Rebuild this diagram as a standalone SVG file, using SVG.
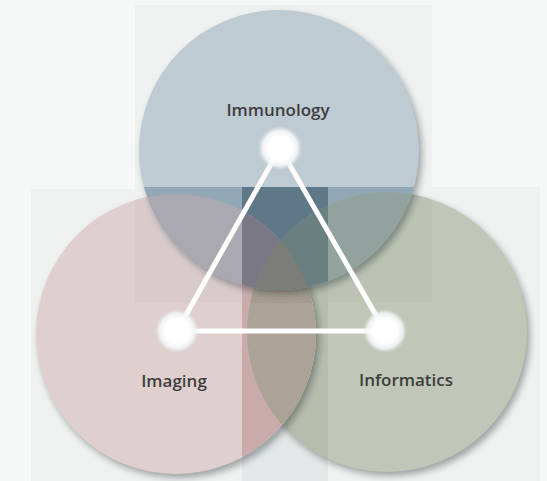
<svg xmlns="http://www.w3.org/2000/svg" width="547" height="481" viewBox="0 0 547 481">
  <defs>
    <style>
      .label { font-family: "Open Sans", "Liberation Sans", sans-serif; font-weight: 600; font-size: 17px; fill: #3e3e3e; text-anchor: middle; }
      .link { stroke: #ffffff; stroke-width: 5; fill: none; stroke-linecap: round; }
      .shadow { fill: #1e2428; fill-opacity: 0.38; filter: url(#soft); }
      .panel { fill: #eff1f0; }
      .dot { fill: url(#glow); }
    </style>
    <filter id="soft" x="-10%" y="-10%" width="120%" height="120%">
      <feGaussianBlur stdDeviation="3"/>
    </filter>
    <clipPath id="cI"><circle cx="279" cy="150" r="140"/></clipPath>
    <clipPath id="cA"><circle cx="176" cy="334" r="140"/></clipPath>
    <clipPath id="cF"><circle cx="387" cy="332" r="140"/></clipPath>
    <radialGradient id="glow">
      <stop offset="0" stop-color="#ffffff"/>
      <stop offset="0.55" stop-color="#ffffff"/>
      <stop offset="0.8" stop-color="#f3f5f6" stop-opacity="0.9"/>
      <stop offset="1" stop-color="#dfe5e8" stop-opacity="0"/>
    </radialGradient>
  </defs>

  <!-- backdrop and square panels -->
  <rect width="547" height="481" fill="#f6f8f7"/>
  <g id="panels">
    <rect class="panel" x="135" y="5" width="297" height="298"/>
    <rect class="panel" x="31" y="189" width="297" height="292"/>
    <rect class="panel" x="242" y="187" width="298" height="294"/>
    <rect x="242" y="187" width="86" height="294" fill="#e3e7e8"/>
  </g>

  <!-- Informatics set (bottom layer) -->
  <g id="set-informatics">
    <circle class="shadow" cx="390" cy="336" r="140"/>
    <g clip-path="url(#cF)">
      <rect x="247" y="192" width="280" height="280" fill="#c0c7b8"/>
      <rect x="135" y="187" width="297" height="116" fill="#bcc3b4"/>
      <rect x="242" y="187" width="86" height="294" fill="#b6bdad"/>
    </g>
  </g>

  <!-- Imaging set -->
  <g id="set-imaging">
    <circle class="shadow" cx="179" cy="338" r="140"/>
    <g clip-path="url(#cA)">
      <rect x="36" y="194" width="280" height="280" fill="#dfd0cf"/>
      <rect x="135" y="189" width="297" height="114" fill="#d9cbcb"/>
      <rect x="242" y="187" width="86" height="294" fill="#c9abab"/>
    </g>
    <!-- Imaging ∩ Informatics -->
    <g clip-path="url(#cA)">
      <g clip-path="url(#cF)">
        <rect x="242" y="187" width="86" height="294" fill="#aba395"/>
        <rect x="242" y="187" width="86" height="116" fill="#a49c8f"/>
      </g>
    </g>
  </g>

  <!-- Immunology set (top layer) -->
  <g id="set-immunology">
    <circle class="shadow" cx="282" cy="154" r="140"/>
    <g clip-path="url(#cI)">
      <rect x="139" y="10" width="280" height="280" fill="#bfcbd3"/>
      <rect x="135" y="187" width="297" height="116" fill="#93a8b6"/>
      <rect x="242" y="187" width="86" height="116" fill="#5f7888"/>
    </g>
    <!-- Immunology ∩ Imaging -->
    <g clip-path="url(#cI)">
      <g clip-path="url(#cA)">
        <rect x="135" y="187" width="297" height="116" fill="#aaa8b0"/>
        <rect x="242" y="187" width="86" height="116" fill="#7b7886"/>
      </g>
    </g>
    <!-- Immunology ∩ Informatics -->
    <g clip-path="url(#cI)">
      <g clip-path="url(#cF)">
        <rect x="135" y="187" width="297" height="116" fill="#92a29e"/>
        <rect x="242" y="187" width="86" height="116" fill="#6a7f80"/>
      </g>
    </g>
    <!-- all three sets -->
    <g clip-path="url(#cI)">
      <g clip-path="url(#cA)">
        <g clip-path="url(#cF)">
          <rect x="242" y="187" width="86" height="116" fill="#7d7d77"/>
        </g>
      </g>
    </g>
  </g>

  <!-- connectors -->
  <g id="connectors">
    <line class="link" x1="280" y1="148" x2="177" y2="331"/>
    <line class="link" x1="177" y1="331" x2="385" y2="331"/>
    <line class="link" x1="385" y1="331" x2="280" y2="148"/>
  </g>

  <!-- nodes -->
  <g id="node-immunology">
    <circle class="dot" cx="280" cy="148" r="22"/>
    <text class="label" x="278" y="116">Immunology</text>
  </g>
  <g id="node-imaging">
    <circle class="dot" cx="177" cy="331" r="22"/>
    <text class="label" x="174" y="387">Imaging</text>
  </g>
  <g id="node-informatics">
    <circle class="dot" cx="385" cy="331" r="22"/>
    <text class="label" x="406" y="386">Informatics</text>
  </g>
</svg>
